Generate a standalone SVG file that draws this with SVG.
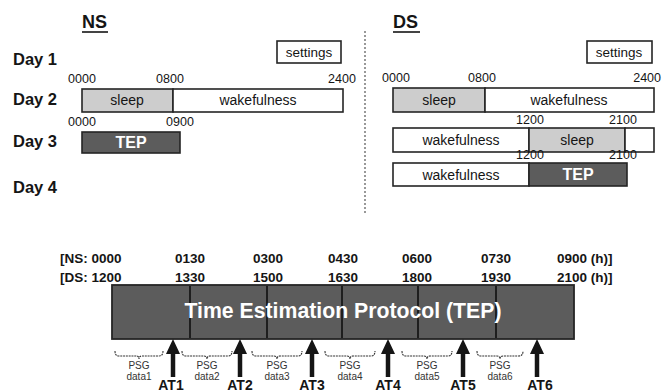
<svg xmlns="http://www.w3.org/2000/svg" width="662" height="392" viewBox="0 0 662 392">
<defs>
<style>
text{font-family:"Liberation Sans",Arial,sans-serif;fill:#151515}
.day{font-size:16.5px;font-weight:bold}
.hd{font-size:18px;font-weight:bold}
.tm{font-size:12.5px}
.bl{font-size:14px}
.set{font-size:13.5px}
.bar{stroke:#252525;stroke-width:1.6;fill:#fff}
.sleep{fill:#cdcdcd}
.tep{fill:#5c5c5c}
.wt{fill:#fff;font-weight:bold}
.bt{font-size:13.5px;font-weight:bold}
.psg{font-size:10px;fill:#333}
.at{font-size:14px;font-weight:bold}
.brace{fill:none;stroke:#333;stroke-width:1.1;stroke-dasharray:2 0.8}
.arr{stroke:#151515;stroke-width:4.5}
</style>
<marker id="ah" markerUnits="userSpaceOnUse" markerWidth="15" markerHeight="14" viewBox="0 0 15 14" refX="1" refY="7" orient="auto">
<path d="M0,0 L15,7 L0,14 z" fill="#151515"/>
</marker>
</defs>
<rect width="662" height="392" fill="#fff"/>

<g id="headers">
<text class="hd" x="82" y="28">NS</text>
<line x1="82" y1="32" x2="108" y2="32" stroke="#151515" stroke-width="1.6"/>
<text class="hd" x="393" y="28">DS</text>
<line x1="393" y1="32" x2="420" y2="32" stroke="#151515" stroke-width="1.6"/>
<line x1="365" y1="31" x2="365" y2="215" stroke="#555" stroke-width="1.2" stroke-dasharray="2 2"/>
</g>

<g id="day-labels">
<text class="day" x="13" y="65">Day 1</text>
<text class="day" x="13" y="105">Day 2</text>
<text class="day" x="13" y="147">Day 3</text>
<text class="day" x="13" y="193">Day 4</text>
</g>

<g id="ns-settings">
<rect class="bar" x="277" y="41" width="64" height="22"/>
<text class="set" x="309" y="57" text-anchor="middle">settings</text>
</g>

<g id="ns-day2">
<rect class="bar sleep" x="82" y="89" width="91" height="23"/>
<rect class="bar" x="173" y="89" width="170" height="23"/>
<text class="bl" x="127" y="105" text-anchor="middle">sleep</text>
<text class="bl" x="258" y="105" text-anchor="middle">wakefulness</text>
<text class="tm" x="82" y="83" text-anchor="middle">0000</text>
<text class="tm" x="170" y="83" text-anchor="middle">0800</text>
<text class="tm" x="342" y="83" text-anchor="middle">2400</text>
</g>

<g id="ns-day3">
<rect class="bar tep" x="82" y="132" width="98" height="21"/>
<text class="wt" x="131" y="148" text-anchor="middle" font-size="16">TEP</text>
<text class="tm" x="82" y="126" text-anchor="middle">0000</text>
<text class="tm" x="180" y="126" text-anchor="middle">0900</text>
</g>

<g id="ds-settings">
<rect class="bar" x="587" y="41" width="65" height="22"/>
<text class="set" x="619" y="57" text-anchor="middle">settings</text>
</g>

<g id="ds-day2">
<rect class="bar sleep" x="393" y="88" width="92" height="24"/>
<rect class="bar" x="485" y="88" width="169" height="24"/>
<text class="bl" x="439" y="105" text-anchor="middle">sleep</text>
<text class="bl" x="569" y="105" text-anchor="middle">wakefulness</text>
<text class="tm" x="396" y="82" text-anchor="middle">0000</text>
<text class="tm" x="482" y="82" text-anchor="middle">0800</text>
<text class="tm" x="661" y="82" text-anchor="end">2400</text>
</g>

<g id="ds-day3">
<rect class="bar" x="393" y="128" width="136" height="24"/>
<rect class="bar sleep" x="529" y="128" width="96" height="24"/>
<rect class="bar" x="625" y="128" width="29" height="24"/>
<text class="bl" x="461" y="145" text-anchor="middle">wakefulness</text>
<text class="bl" x="577" y="145" text-anchor="middle">sleep</text>
<text class="tm" x="530" y="124" text-anchor="middle">1200</text>
<text class="tm" x="623" y="124" text-anchor="middle">2100</text>
</g>

<g id="ds-day4">
<rect class="bar" x="393" y="163" width="136" height="23"/>
<rect class="bar tep" x="529" y="163" width="98" height="23"/>
<text class="bl" x="461" y="180" text-anchor="middle">wakefulness</text>
<text class="wt" x="578" y="180" text-anchor="middle" font-size="16">TEP</text>
<text class="tm" x="530" y="159" text-anchor="middle">1200</text>
<text class="tm" x="623" y="159" text-anchor="middle">2100</text>
</g>

<g id="time-axis">
<text class="bt" x="60" y="263">[NS: 0000</text>
<text class="bt" x="60" y="282">[DS: 1200</text>
<text class="bt" x="190" y="263" text-anchor="middle">0130</text>
<text class="bt" x="190" y="282" text-anchor="middle">1330</text>
<text class="bt" x="268" y="263" text-anchor="middle">0300</text>
<text class="bt" x="268" y="282" text-anchor="middle">1500</text>
<text class="bt" x="343" y="263" text-anchor="middle">0430</text>
<text class="bt" x="343" y="282" text-anchor="middle">1630</text>
<text class="bt" x="417" y="263" text-anchor="middle">0600</text>
<text class="bt" x="417" y="282" text-anchor="middle">1800</text>
<text class="bt" x="496" y="263" text-anchor="middle">0730</text>
<text class="bt" x="496" y="282" text-anchor="middle">1930</text>
<text class="bt" x="557" y="263">0900 (h)]</text>
<text class="bt" x="557" y="282">2100 (h)]</text>
</g>

<g id="tep-protocol">
<rect x="112" y="285" width="462" height="54" fill="#5c5c5c" stroke="#252525" stroke-width="1.8"/>
<g stroke="#1e1e1e" stroke-width="2">
<line x1="190" y1="286" x2="190" y2="338"/>
<line x1="267" y1="286" x2="267" y2="338"/>
<line x1="342" y1="286" x2="342" y2="338"/>
<line x1="418" y1="286" x2="418" y2="338"/>
<line x1="496" y1="286" x2="496" y2="338"/>
</g>
<text class="wt" x="343" y="318" text-anchor="middle" font-size="22" textLength="317" lengthAdjust="spacingAndGlyphs">Time Estimation Protocol (TEP)</text>
</g>

<g id="psg-data">
<path class="brace" d="M115,351 Q115,356 119,356 L136,356 Q139,356 139,359 Q139,356 142,356 L159,356 Q163,356 163,351"/>
<text class="psg" x="139" y="369" text-anchor="middle">PSG</text>
<text class="psg" x="139" y="380" text-anchor="middle">data1</text>
<path class="brace" d="M182,351 Q182,356 186,356 L204,356 Q207,356 207,359 Q207,356 210,356 L228,356 Q232,356 232,351"/>
<text class="psg" x="207" y="369" text-anchor="middle">PSG</text>
<text class="psg" x="207" y="380" text-anchor="middle">data2</text>
<path class="brace" d="M252,351 Q252,356 256,356 L274,356 Q277,356 277,359 Q277,356 280,356 L298,356 Q302,356 302,351"/>
<text class="psg" x="277" y="369" text-anchor="middle">PSG</text>
<text class="psg" x="277" y="380" text-anchor="middle">data3</text>
<path class="brace" d="M325,351 Q325,356 329,356 L347,356 Q350,356 350,359 Q350,356 353,356 L371,356 Q375,356 375,351"/>
<text class="psg" x="350" y="369" text-anchor="middle">PSG</text>
<text class="psg" x="350" y="380" text-anchor="middle">data4</text>
<path class="brace" d="M402,351 Q402,356 406,356 L424,356 Q427,356 427,359 Q427,356 430,356 L448,356 Q452,356 452,351"/>
<text class="psg" x="427" y="369" text-anchor="middle">PSG</text>
<text class="psg" x="427" y="380" text-anchor="middle">data5</text>
<path class="brace" d="M477,351 Q477,356 481,356 L497,356 Q500,356 500,359 Q500,356 503,356 L519,356 Q523,356 523,351"/>
<text class="psg" x="500" y="369" text-anchor="middle">PSG</text>
<text class="psg" x="500" y="380" text-anchor="middle">data6</text>
</g>

<g id="connectors">
<line class="arr" x1="173" y1="377" x2="173" y2="353" marker-end="url(#ah)"/>
<line class="arr" x1="240" y1="377" x2="240" y2="353" marker-end="url(#ah)"/>
<line class="arr" x1="312" y1="377" x2="312" y2="353" marker-end="url(#ah)"/>
<line class="arr" x1="388" y1="377" x2="388" y2="353" marker-end="url(#ah)"/>
<line class="arr" x1="463" y1="377" x2="463" y2="353" marker-end="url(#ah)"/>
<line class="arr" x1="537" y1="377" x2="537" y2="353" marker-end="url(#ah)"/>
</g>

<g id="at-labels">
<text class="at" x="171" y="390" text-anchor="middle">AT1</text>
<text class="at" x="240" y="390" text-anchor="middle">AT2</text>
<text class="at" x="312" y="390" text-anchor="middle">AT3</text>
<text class="at" x="388" y="390" text-anchor="middle">AT4</text>
<text class="at" x="463" y="390" text-anchor="middle">AT5</text>
<text class="at" x="540" y="390" text-anchor="middle">AT6</text>
</g>
</svg>
